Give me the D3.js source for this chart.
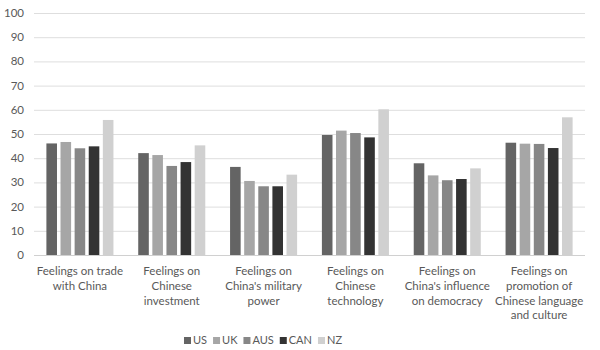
<!DOCTYPE html>
<html>
<head>
<meta charset="utf-8">
<script src="https://cdn.jsdelivr.net/npm/d3@7"></script>
<style>
  body { margin: 0; background: #fff; }
  text { font-family: Lato, "Liberation Sans", sans-serif; fill: #595959; }
</style>
</head>
<body>
<div id="chart"></div>
<script>
var categories = [
  ["Feelings on trade", "with China"],
  ["Feelings on", "Chinese", "investment"],
  ["Feelings on", "China's military", "power"],
  ["Feelings on", "Chinese", "technology"],
  ["Feelings on", "China's influence", "on democracy"],
  ["Feelings on", "promotion of", "Chinese language", "and culture"]
]
var seriesNames = ["US", "UK", "AUS", "CAN", "NZ"]
var US  = [46.1, 42.1, 36.4, 49.6, 37.9, 46.4]
var UK  = [46.7, 41.3, 30.6, 51.4, 32.9, 46.0]
var AUS = [44.1, 36.8, 28.4, 50.4, 30.9, 45.9]
var CAN = [44.9, 38.4, 28.4, 48.6, 31.4, 44.2]
var NZ  = [55.8, 45.3, 33.2, 60.2, 35.8, 56.9]
var yTicks = [0, 10, 20, 30, 40, 50, 60, 70, 80, 90, 100]

var colors = ["#646464", "#a6a6a6", "#878787", "#333333", "#d0d0d0"]
var values = [US, UK, AUS, CAN, NZ]

var width = 600, height = 350
var margin = { top: 13, left: 34, right: 15, bottom: 95 }
var chartWidth = width - margin.left - margin.right
var chartHeight = height - margin.top - margin.bottom

var svg = d3.select("#chart").append("svg")
    .attr("width", width).attr("height", height)
var g = svg.append("g")
    .attr("transform", "translate(" + [margin.left, margin.top] + ")")

var x0 = d3.scaleBand()
    .domain(d3.range(categories.length))
    .range([0, chartWidth])
    .paddingInner(0.27).paddingOuter(0.135)
var x1 = d3.scaleBand()
    .domain(seriesNames)
    .range([0, x0.bandwidth()])
    .paddingInner(0.25)
var y = d3.scaleLinear().domain([0, 100]).range([chartHeight, 0])

// gridlines
g.append("g").selectAll("line")
    .data(yTicks)
    .enter().append("line")
    .attr("x1", 0).attr("x2", chartWidth)
    .attr("y1", function(d) { return y(d) + 0.5 })
    .attr("y2", function(d) { return y(d) + 0.5 })
    .attr("stroke", function(d) { return d == 0 ? "#d0d0d0" : "#dedede" })
    .attr("stroke-width", 1)

// y labels
g.append("g").selectAll("text")
    .data(yTicks)
    .enter().append("text")
    .attr("x", -10)
    .attr("y", function(d) { return y(d) })
    .attr("dy", "0.35em")
    .attr("text-anchor", "end")
    .attr("font-size", "11.5px")
    .text(function(d) { return d })

// bars
var groups = g.append("g").selectAll("g")
    .data(categories)
    .enter().append("g")
    .attr("transform", function(d, i) { return "translate(" + x0(i) + ",0)" })

groups.selectAll("rect")
    .data(function(d, i) {
      return seriesNames.map(function(s, j) { return { s: s, j: j, v: values[j][i] } })
    })
    .enter().append("rect")
    .attr("x", function(d) { return x1(d.s) })
    .attr("width", x1.bandwidth())
    .attr("y", function(d) { return y(d.v) })
    .attr("height", function(d) { return chartHeight - y(d.v) })
    .attr("fill", function(d) { return colors[d.j] })

// category labels
var labels = g.append("g").selectAll("text")
    .data(categories)
    .enter().append("text")
    .attr("text-anchor", "middle")
    .attr("font-size", "11.5px")
    .attr("transform", function(d, i) {
      return "translate(" + (x0(i) + x0.bandwidth() / 2) + "," + (chartHeight + 20) + ")"
    })
labels.selectAll("tspan")
    .data(function(d) { return d })
    .enter().append("tspan")
    .attr("x", 0)
    .attr("y", function(d, i) { return i * 14.8 })
    .text(function(d) { return d })

// legend, laid out from measured text widths and centred
var legend = svg.append("g")
var items = legend.selectAll("g")
    .data(seriesNames)
    .enter().append("g")
items.append("rect")
    .attr("width", 7).attr("height", 7)
    .attr("fill", function(d, i) { return colors[i] })
items.append("text")
    .attr("x", 9).attr("y", 3.5).attr("dy", "0.35em")
    .attr("font-size", "11px")
    .text(function(d) { return d })
var pos = 0
items.each(function() {
    d3.select(this).attr("transform", "translate(" + pos + ",0)")
    pos += 9 + this.querySelector("text").getComputedTextLength() + 6
})
pos -= 6
legend.attr("transform", "translate(" + (263 - pos / 2) + ",337)")
</script>
</body>
</html>
